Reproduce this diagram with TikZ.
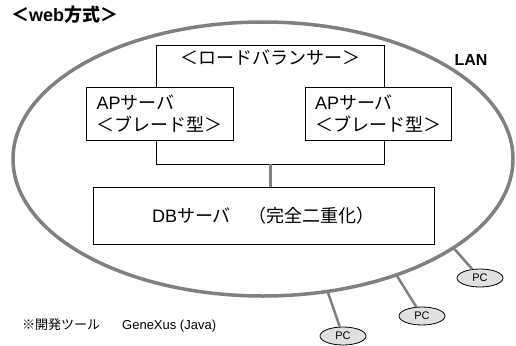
\documentclass[tikz,border=0pt]{standalone}
\usepackage{fontspec}
\setmainfont{Liberation Sans}
\newfontfamily\jp{Noto Sans CJK JP}
\usetikzlibrary{shapes.geometric}
\definecolor{lanc}{RGB}{128,128,128}
\definecolor{pcfill}{RGB}{224,224,224}
\begin{document}
\begin{tikzpicture}[x=1pt,y=-1pt,
  box/.style={draw=black, line width=0.8pt, fill=white, inner sep=0pt, outer sep=0pt},
  lanring/.style={ellipse, draw=lanc, line width=3.5pt, inner sep=0pt, outer sep=0pt},
  conn/.style={draw=lanc, line width=3pt},
  pcconn/.style={draw=lanc, line width=2.5pt},
  pc/.style={ellipse, draw=black, line width=0.8pt, fill=pcfill, minimum width=46pt, minimum height=18pt, inner sep=0pt, font=\fontsize{11}{13}\selectfont},
  txt/.style={font=\fontsize{18}{22}\selectfont, inner sep=0pt},
]
\useasboundingbox (0,0) rectangle (516,345);

% LAN ring
\node[lanring, minimum width=500pt, minimum height=274pt] (lan) at (263,159) {};

% load balancer box
\node[box, minimum width=228pt, minimum height=119pt] (lb) at (270,104.5) {};
\node[txt] (lbt) at (270,58) {\jp ＜ロードバランサー＞};

% AP servers
\node[box, minimum width=147pt, minimum height=53pt, align=left, font=\fontsize{18}{22}\selectfont] (ap1) at (159.5,113.5) {AP{\jp サーバ}\\{\jp ＜ブレード型＞}};
\node[box, minimum width=146pt, minimum height=53pt, align=left, font=\fontsize{18}{22}\selectfont] (ap2) at (378,113.5) {AP{\jp サーバ}\\{\jp ＜ブレード型＞}};

% DB server
\node[box, minimum width=341pt, minimum height=57pt, font=\fontsize{18}{22}\selectfont] (db) at (263.5,215.5) {DB{\jp サーバ　（完全二重化）}};

\draw[conn] (lb.south) -- (lb.south |- db.north);

% PCs
\node[pc] (pc1) at (343,336) {PC};
\node[pc] (pc2) at (422,316) {PC};
\node[pc] (pc3) at (480,278) {PC};
\draw[pcconn] (lan.-64) -- (pc1);
\draw[pcconn] (lan.-41) -- (pc2);
\draw[pcconn] (lan.-25) -- (pc3);

% labels
\node[anchor=west, inner sep=0pt, font=\fontsize{18}{22}\selectfont\bfseries] (title) at (11,15) {{\jp ＜}web{\jp 方式＞}};
\node[inner sep=0pt, font=\fontsize{16}{18}\selectfont\bfseries] (lant) at (471,60) {LAN};
\node[anchor=west, inner sep=0pt, font=\fontsize{13}{15}\selectfont] (note) at (22,325) {{\jp ※開発ツール}\hspace{22pt}GeneXus (Java)};
\end{tikzpicture}
\end{document}
